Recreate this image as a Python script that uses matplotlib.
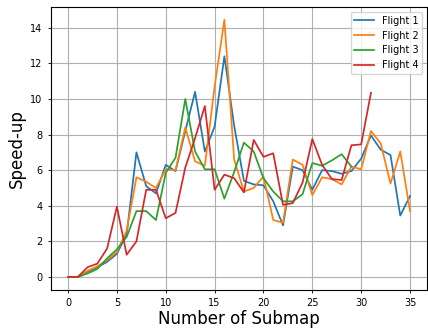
import matplotlib
matplotlib.use("Agg")
import matplotlib.pyplot as plt

flight1 = [0, 0, 0.3, 0.55, 0.85, 1.3, 2.4, 7.0, 5.1, 4.7, 6.3, 5.95, 8.2, 10.4, 7.05, 8.45,
           12.4, 8.5, 5.4, 5.2, 5.15, 4.25, 2.9, 6.2, 6.0, 4.9, 6.0, 5.95, 5.8, 5.95, 6.65,
           7.95, 7.15, 6.85, 3.45, 4.55]
flight2 = [0, 0, 0.35, 0.6, 0.95, 1.4, 2.6, 5.6, 5.35, 5.0, 6.05, 6.0, 8.4, 6.5, 6.25, 10.7,
           14.45, 6.6, 4.8, 5.0, 5.65, 3.2, 3.05, 6.6, 6.3, 4.6, 5.6, 5.5, 5.2, 6.2, 6.05,
           8.2, 7.5, 5.25, 7.05, 3.7]
flight3 = [0, 0, 0.2, 0.45, 1.05, 1.55, 2.25, 3.7, 3.7, 3.2, 5.85, 6.7, 10.0, 7.05, 6.05,
           6.05, 4.4, 5.9, 7.55, 7.05, 5.55, 4.8, 4.25, 4.25, 4.65, 6.4, 6.25, 6.55, 6.9, 6.2]
flight4 = [0, 0, 0.55, 0.75, 1.6, 3.95, 1.25, 2.0, 4.9, 4.9, 3.3, 3.6, 6.15, 7.8, 9.6, 4.9,
           5.75, 5.55, 4.75, 7.7, 6.75, 6.95, 4.05, 4.15, 5.3, 7.75, 6.3, 5.5, 5.45, 7.4,
           7.45, 10.35]
labels = ["Flight 1", "Flight 2", "Flight 3", "Flight 4"]


def main():
    figure = plt.figure(figsize=(4.28, 3.29), dpi=100)
    axes = figure.add_axes([0.119, 0.119, 0.879, 0.86])

    for series, label in zip((flight1, flight2, flight3, flight4), labels):
        axes.plot(range(len(series)), series, label=label, linewidth=1.25)

    axes.set_xticks(range(0, 36, 5))
    axes.set_yticks(range(0, 15, 2))
    axes.tick_params(labelsize=7, length=2.5, width=0.6)
    axes.grid(True)
    axes.set_xlabel("Number of Submap", fontsize=12, labelpad=1)
    axes.set_ylabel("Speed-up", fontsize=12, labelpad=3)
    axes.legend(loc="upper right", fontsize=7)

    figure.savefig("out.png", dpi=100)


if __name__ == '__main__':
    main()
